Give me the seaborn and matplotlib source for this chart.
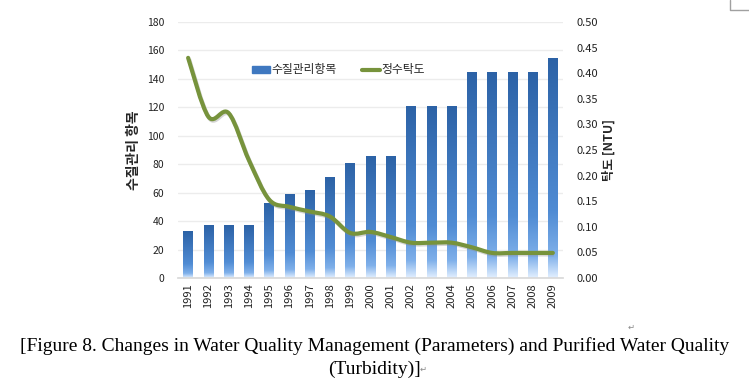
import numpy as np
import pandas as pd
import matplotlib
matplotlib.use("Agg")
import matplotlib.pyplot as plt
from matplotlib.colors import LinearSegmentedColormap
from matplotlib.path import Path
from matplotlib.patches import PathPatch
from matplotlib.lines import Line2D
import seaborn as sns

# ── Data ──────────────────────────────────────────────────────────────────────
years = [str(y) for y in range(1991, 2010)]
params = [33, 37, 37, 37, 53, 59, 62, 71, 81, 86, 86, 121, 121, 121, 145, 145, 145, 145, 155]
turbidity = [0.43, 0.315, 0.322, 0.23, 0.153, 0.139, 0.13, 0.12, 0.088, 0.09,
             0.08, 0.069, 0.069, 0.069, 0.06, 0.049, 0.049, 0.049, 0.049]
left_ticks = list(range(0, 181, 20))
right_ticks = [i * 0.05 for i in range(11)]

BAR_LABEL = "수질관리항목"
LINE_LABEL = "정수탁도"

sns.set_theme(style="white")
plt.rcParams["font.family"] = ["Noto Sans CJK KR", "DejaVu Sans"]

fig = plt.figure(figsize=(7.49, 3.88), dpi=100)
ax = fig.add_axes([178 / 749, 1 - 278 / 388, 385 / 749, 256 / 388])

df = pd.DataFrame({"year": years, "params": params})
sns.barplot(data=df, x="year", y="params", ax=ax, color="#3f78c0", width=0.47,
            saturation=1, zorder=2)

# gradient fill on each bar
grad = LinearSegmentedColormap.from_list(
    "bar", [(0, "#e2efff"), (0.1, "#7fb0ea"), (0.3, "#508cd4"), (1, "#2c62a6")])
g = np.linspace(0, 1, 256).reshape(-1, 1)
for p in ax.patches:
    x0, y0, w, h = p.get_x(), p.get_y(), p.get_width(), p.get_height()
    im = ax.imshow(g, cmap=grad, origin="lower", aspect="auto",
                   extent=[x0, x0 + w, y0, y0 + h], zorder=2)
    im.set_clip_path(p)
    p.set_facecolor("none")
    p.set_edgecolor("none")

ax.set_xlim(-0.5, len(years) - 0.5)
ax.set_ylim(0, 180)
ax.set_yticks(left_ticks)
ax.set_yticklabels([str(t) for t in left_ticks])
ax.grid(True, axis="y", color="#ececec", linewidth=1, zorder=0)
ax.set_axisbelow(True)
for s in ["top", "left", "right"]:
    ax.spines[s].set_visible(False)
ax.spines["bottom"].set_color("#d9d9d9")
ax.tick_params(axis="x", rotation=90, labelsize=8, length=0, pad=4, colors="#222222")
ax.tick_params(axis="y", labelsize=7.5, length=0, pad=10, colors="#222222")
ax.set_xlabel("")
ax.set_ylabel("수질관리 항목", fontsize=10, fontweight="bold", labelpad=4)

# turbidity on secondary axis, smoothed like the spreadsheet line
ax2 = ax.twinx()
ax2.set_ylim(0, 0.5)
ax2.set_yticks(right_ticks)
ax2.set_yticklabels([f"{t:.2f}" for t in right_ticks])
ax2.tick_params(axis="y", labelsize=8, length=0, pad=10, colors="#222222")
for s in ["top", "left", "right", "bottom"]:
    ax2.spines[s].set_visible(False)
ax2.grid(False)
ax2.set_ylabel("탁도 [NTU]", fontsize=9, fontweight="bold", labelpad=3)

xs = np.arange(len(years), dtype=float)
ys = np.array(turbidity)
verts = [(xs[0], ys[0])]
codes = [Path.MOVETO]
for i in range(len(xs) - 1):
    p0 = (xs[max(i - 1, 0)], ys[max(i - 1, 0)])
    p1 = (xs[i], ys[i])
    p2 = (xs[i + 1], ys[i + 1])
    p3 = (xs[min(i + 2, len(xs) - 1)], ys[min(i + 2, len(xs) - 1)])
    c1 = (p1[0] + (p2[0] - p0[0]) / 6, p1[1] + (p2[1] - p0[1]) / 6)
    c2 = (p2[0] - (p3[0] - p1[0]) / 6, p2[1] - (p3[1] - p1[1]) / 6)
    verts += [c1, c2, p2]
    codes += [Path.CURVE4] * 3
shadow = ax2.transData + matplotlib.transforms.ScaledTranslation(1 / 100, -1.5 / 100, fig.dpi_scale_trans)
ax2.add_patch(PathPatch(Path(verts, codes), facecolor="none", edgecolor="#8a8a8a",
                        lw=3, alpha=0.35, zorder=3, transform=shadow))
ax2.add_patch(PathPatch(Path(verts, codes), facecolor="none", edgecolor="#77933c",
                        lw=3, capstyle="round", joinstyle="round", zorder=4))

handles = [plt.Rectangle((0, 0), 1, 1, color="#3f78c0"),
           Line2D([0], [0], color="#77933c", lw=3)]
ax.legend(handles, [BAR_LABEL, LINE_LABEL], loc="upper left", bbox_to_anchor=(0.165, 0.88),
          ncol=2, frameon=False, fontsize=8.5, handlelength=1.5, handleheight=0.5,
          handletextpad=0.1, columnspacing=2.2)

# caption
cap = dict(family=["Liberation Serif", "DejaVu Serif"], fontsize=14.0, color="#000000", ha="center")
fig.text(0.5, 1 - 351 / 388,
         "[Figure 8. Changes in Water Quality Management (Parameters) and Purified Water Quality",
         **cap)
fig.text(0.5, 1 - 374 / 388, "(Turbidity)]", **cap)
fig.text(420 / 749, 1 - 372 / 388, "↵", family=["DejaVu Sans"], fontsize=6, color="#888888")
fig.text(628 / 749, 1 - 330 / 388, "↵", family=["DejaVu Sans"], fontsize=6, color="#888888")
fig.add_artist(Line2D([730 / 749, 730 / 749, 1], [1, 1 - 10 / 388, 1 - 10 / 388],
                      color="#a0a0a0", lw=1, transform=fig.transFigure))

fig.savefig("out.png", dpi=100)
